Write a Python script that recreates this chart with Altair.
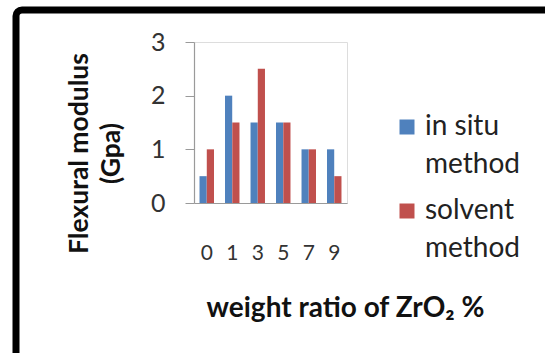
import altair as alt
import pandas as pd

categories = ["0", "1", "3", "5", "7", "9"]
series = ["in situ method", "solvent method"]
in_situ = [0.5, 2.0, 1.5, 1.5, 1.0, 1.0]
solvent = [1.0, 1.5, 2.5, 1.5, 1.0, 0.5]
y_ticks = [0, 1, 2, 3]

rows = []
for c, a, b in zip(categories, in_situ, solvent):
    rows.append({"ratio": c, "method": series[0], "value": a})
    rows.append({"ratio": c, "method": series[1], "value": b})
df = pd.DataFrame(rows)

FONT = "Lato"
W, H = 153, 161
PL, PT = 194, 42

bars = alt.Chart(df).mark_bar(size=7.2).encode(
    x=alt.X(
        "ratio:N",
        sort=categories,
        scale=alt.Scale(paddingInner=0.43, paddingOuter=0.215),
        axis=alt.Axis(
            title="weight ratio of ZrO\u2082 %",
            titleFont=FONT, titleFontSize=28, titleFontWeight="bold", titleColor="#111",
            titleX=151, titleY=113, titleAlign="center", titleBaseline="alphabetic", titleAnchor="middle",
            labelFont=FONT, labelFontSize=21, labelColor="#333", labelAngle=0,
            labelBaseline="top", labelPadding=39,
            ticks=False, domainColor="#9a9a9a", domainWidth=1.2, grid=False,
        ),
    ),
    xOffset=alt.XOffset("method:N", sort=series),
    y=alt.Y(
        "value:Q",
        scale=alt.Scale(domain=[0, 3], nice=False),
        axis=alt.Axis(
            values=y_ticks, format="d",
            title=["Flexural modulus", "(Gpa)"],
            titleFont=FONT, titleFontSize=26.5, titleFontWeight="bold", titleColor="#111",
            titleX=-115, titleY=111, titleAngle=270, titleBaseline="middle", titleAlign="center",
            titleLineHeight=32,
            labelFont=FONT, labelFontSize=25, labelColor="#333", labelPadding=20,
            tickSize=9, tickColor="#9a9a9a", domainColor="#9a9a9a", domainWidth=1.2,
            grid=False,
        ),
    ),
    color=alt.Color(
        "method:N",
        sort=series,
        scale=alt.Scale(domain=series, range=["#4F81BD", "#C0504D"]),
        legend=alt.Legend(
            title=None, orient="none", legendX=199, legendY=71, padding=0,
            symbolType="square", symbolSize=225, symbolStrokeWidth=0,
            labelFont=FONT, labelFontSize=28, labelColor="#222", labelOffset=4,
            labelBaseline="middle", labelLimit=300,
            labelExpr="split(datum.label, ' ')[0] == 'in' ? ['in situ', 'method'] : ['solvent', 'method']",
            rowPadding=18,
        ),
    ),
)

frame = alt.Chart(pd.DataFrame({"f": [0]})).mark_rect(
    fill=None, fillOpacity=0, stroke="black", strokeWidth=7, cornerRadius=6
).encode(
    x=alt.value(16 - PL), x2=alt.value(800),
    y=alt.value(10 - PT), y2=alt.value(700),
)

chart = alt.layer(frame, bars).properties(
    width=W, height=H,
    autosize=alt.AutoSizeParams(type="none"),
    padding={"left": PL, "top": PT, "right": 545 - PL - W, "bottom": 353 - PT - H},
    background="white",
).configure_view(stroke=None).configure(style={"guide-label": {"lineHeight": 38}})

chart.save("out.html", embed_options={"renderer": "svg", "actions": False})
